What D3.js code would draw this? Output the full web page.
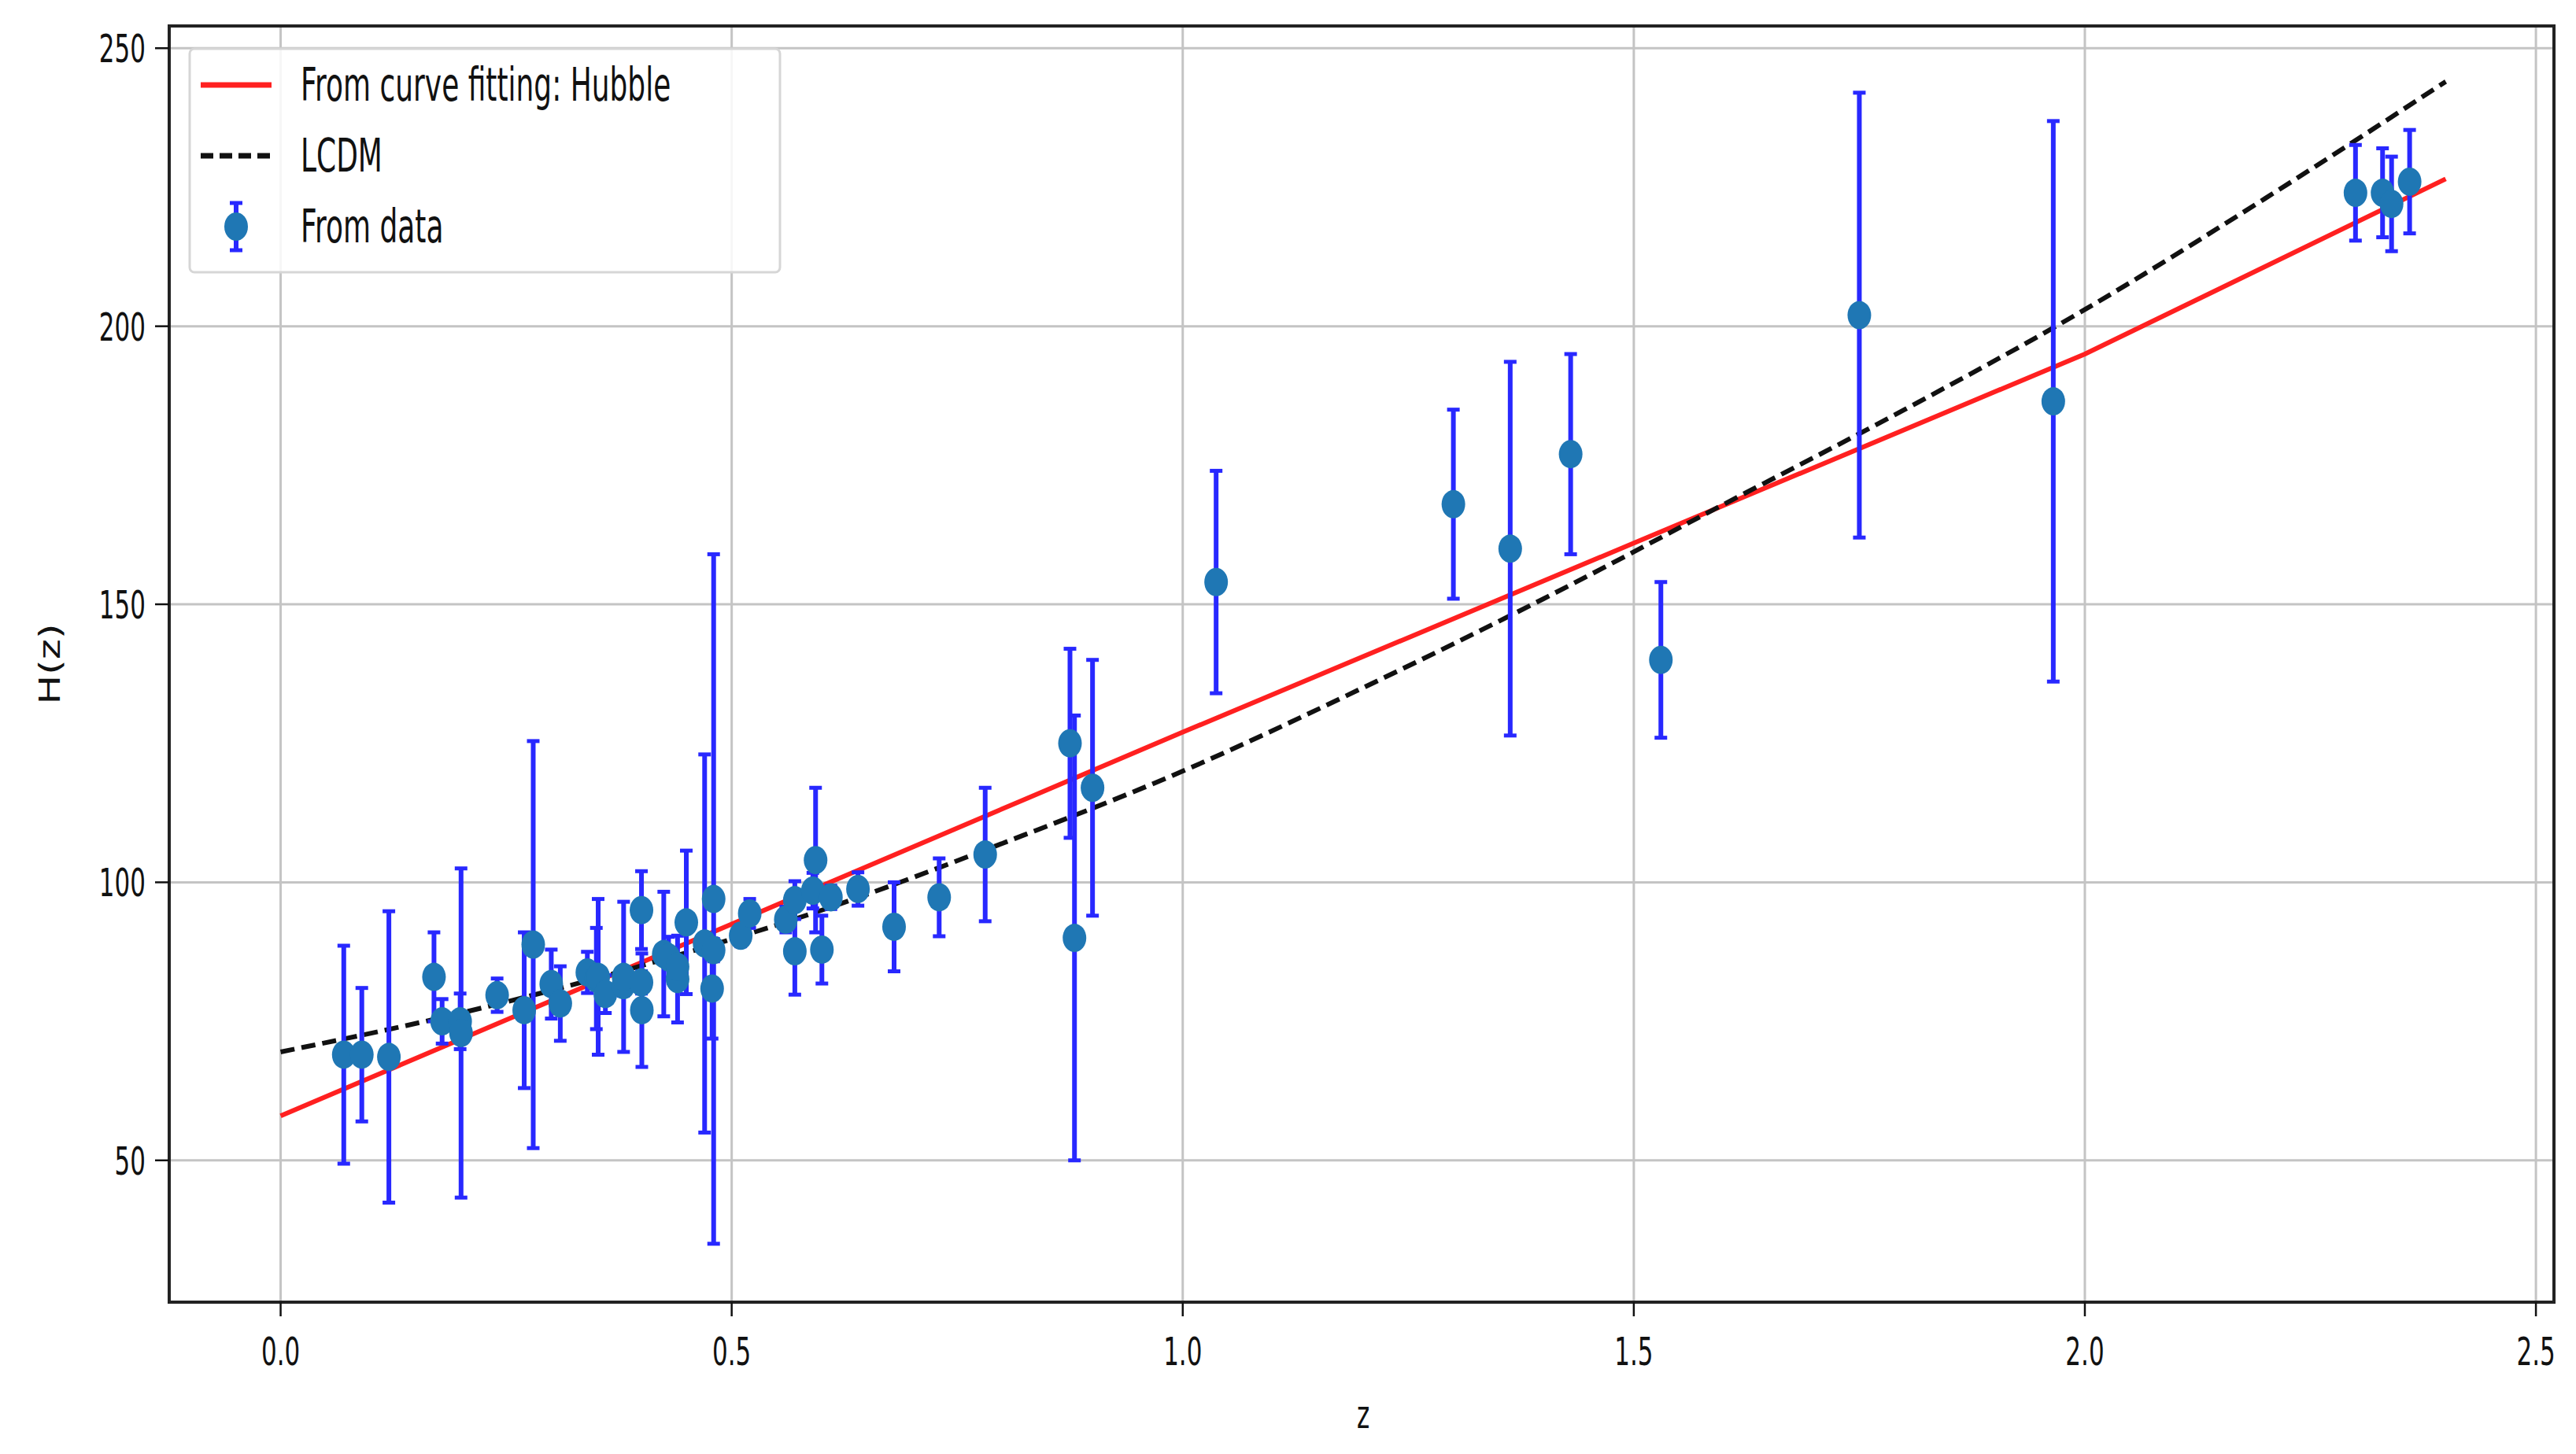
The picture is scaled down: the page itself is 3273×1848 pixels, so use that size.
<!DOCTYPE html>
<html><head><meta charset="utf-8">
<script src="https://cdn.jsdelivr.net/npm/d3@7"></script>
<style>body{margin:0;background:#fff}</style></head>
<body><svg id="chart" width="3273" height="1848"></svg>
<script>
// data points: redshift, H(z), error
const zData = [0.07,0.09,0.12,0.17,0.179,0.199,0.2,0.24,0.27,0.28,0.30,0.31,0.34,0.35,0.352,0.36,0.38,0.3802,0.40,0.40,0.4004,0.4247,0.43,0.44,0.44,0.4497,0.47,0.4783,0.48,0.48,0.51,0.52,0.56,0.57,0.57,0.59,0.593,0.60,0.61,0.64,0.68,0.73,0.781,0.875,0.88,0.9,1.037,1.3,1.363,1.43,1.53,1.75,1.965,2.30,2.33,2.34,2.36];
const hData = [69,69,68.6,83,75,75,72.9,79.7,77,88.8,81.7,78.2,83.8,82.7,83,79.9,81.5,83,82,95,77,87.1,86.5,82.6,84.8,92.8,89,80.9,97,87.8,90.4,94.4,93.3,87.6,96.8,98.5,104,87.9,97.3,98.8,92,97.3,105,125,90,117,154,168,160,177,140,202,186.5,224,224,222,226];
const errData = [19.6,12,26.2,8,4,5,29.6,3,14,36.6,6.2,6.7,3.7,9.1,14,3.4,1.9,13.5,2,7,10.2,11.2,3.7,7.8,1.8,12.9,34,9,62,2,1.9,2.6,2.3,7.8,3.4,3.2,13,6.1,2.1,3,8,7,12,17,40,23,20,17,33.6,18,14,40,50.4,8.6,8,8.5,9.3];
// fitted curve (red) and LCDM (dashed)
const fitZ = [0, 0.5, 1.0, 1.5, 2.0, 2.4];
const fitH = [58, 92.5, 127, 161, 195, 226.5];
const lcdmZ = [0,0.2,0.4,0.6,0.8,1.0,1.2,1.4,1.6,1.8,2.0,2.2,2.4];
const lcdmH = [69.5,76.5,85,95,107,120,135,151,168,185,203,223,244];
const xTicks = [0.0, 0.5, 1.0, 1.5, 2.0, 2.5];
const yTicks = [50, 100, 150, 200, 250];

const svg = d3.select('#chart');
const L = 215, R = 3245, T = 33, B = 1655;
const x = d3.scaleLinear().domain([-0.1235, 2.52]).range([L, R]);
const y = d3.scaleLinear().domain([24.5, 254]).range([B, T]);
const font = 'DejaVu Sans';

// grid
svg.append('g').selectAll('line').data(xTicks).join('line')
  .attr('x1', d => x(d)).attr('x2', d => x(d)).attr('y1', T).attr('y2', B)
  .attr('stroke', '#c4c4c4').attr('stroke-width', 3);
svg.append('g').selectAll('line').data(yTicks).join('line')
  .attr('x1', L).attr('x2', R).attr('y1', d => y(d)).attr('y2', d => y(d))
  .attr('stroke', '#c4c4c4').attr('stroke-width', 3);

// lines
const line = d3.line().x(d => x(d[0])).y(d => y(d[1]));
svg.append('path').datum(fitZ.map((z, i) => [z, fitH[i]]))
  .attr('d', line).attr('fill', 'none').attr('stroke', '#ff2020').attr('stroke-width', 6);
svg.append('path').datum(lcdmZ.map((z, i) => [z, lcdmH[i]]))
  .attr('d', line.curve(d3.curveMonotoneX)).attr('fill', 'none').attr('stroke', '#111')
  .attr('stroke-width', 6).attr('stroke-dasharray', '18,9');

// error bars + markers
const pts = zData.map((z, i) => ({z, h: hData[i], e: errData[i]}));
const eb = svg.append('g').attr('stroke', '#2828ff');
eb.selectAll('.v').data(pts).join('line')
  .attr('x1', d => x(d.z)).attr('x2', d => x(d.z))
  .attr('y1', d => y(d.h - d.e)).attr('y2', d => y(d.h + d.e)).attr('stroke-width', 6);
['lo', 'hi'].forEach(k => {
  eb.selectAll('.' + k).data(pts).join('line')
    .attr('x1', d => x(d.z) - 8).attr('x2', d => x(d.z) + 8)
    .attr('y1', d => y(k === 'lo' ? d.h - d.e : d.h + d.e))
    .attr('y2', d => y(k === 'lo' ? d.h - d.e : d.h + d.e))
    .attr('stroke-width', 5);
});
svg.append('g').selectAll('ellipse').data(pts).join('ellipse')
  .attr('cx', d => x(d.z)).attr('cy', d => y(d.h)).attr('rx', 15).attr('ry', 18)
  .attr('fill', '#1f77b4');

// frame
svg.append('rect').attr('x', L).attr('y', T).attr('width', R - L).attr('height', B - T)
  .attr('fill', 'none').attr('stroke', '#222').attr('stroke-width', 4);

// ticks & labels (narrow-looking text)
const tg = svg.append('g').attr('font-family', font).attr('font-size', 50).attr('fill', '#111');
xTicks.forEach(t => {
  tg.append('line').attr('x1', x(t)).attr('x2', x(t)).attr('y1', B).attr('y2', B + 18).attr('stroke', '#111').attr('stroke-width', 2.5);
  tg.append('text').attr('transform', `translate(${x(t)},${B + 80}) scale(0.62,1)`)
    .attr('text-anchor', 'middle').text(t.toFixed(1));
});
yTicks.forEach(t => {
  tg.append('line').attr('x1', L - 18).attr('x2', L).attr('y1', y(t)).attr('y2', y(t)).attr('stroke', '#111').attr('stroke-width', 2.5);
  tg.append('text').attr('transform', `translate(${L - 30},${y(t) + 18}) scale(0.62,1)`)
    .attr('text-anchor', 'end').text(t);
});
tg.append('text').attr('transform', `translate(${x(1.2)},${1815}) scale(0.62,1)`)
  .attr('text-anchor', 'middle').text('z');
tg.append('text').attr('transform', `translate(76,${(T + B) / 2}) rotate(-90) scale(1,0.75)`)
  .attr('text-anchor', 'middle').attr('font-size', 50).text('H(z)');

// legend
const lg = svg.append('g');
lg.append('rect').attr('x', 241).attr('y', 62).attr('width', 750).attr('height', 284).attr('rx', 6)
  .attr('fill', 'rgba(255,255,255,0.85)').attr('stroke', '#d6d6d6').attr('stroke-width', 3);
const rows = [108, 198, 288];
lg.append('line').attr('x1', 255).attr('x2', 345).attr('y1', rows[0]).attr('y2', rows[0])
  .attr('stroke', '#ff2020').attr('stroke-width', 7);
lg.append('line').attr('x1', 255).attr('x2', 345).attr('y1', rows[1]).attr('y2', rows[1])
  .attr('stroke', '#111').attr('stroke-width', 7).attr('stroke-dasharray', '16,8');
lg.append('line').attr('x1', 300).attr('x2', 300).attr('y1', rows[2] - 30).attr('y2', rows[2] + 30)
  .attr('stroke', '#2828ff').attr('stroke-width', 6);
[rows[2] - 30, rows[2] + 30].forEach(v => lg.append('line').attr('x1', 292).attr('x2', 308)
  .attr('y1', v).attr('y2', v).attr('stroke', '#2828ff').attr('stroke-width', 5));
lg.append('ellipse').attr('cx', 300).attr('cy', rows[2]).attr('rx', 15).attr('ry', 18).attr('fill', '#1f77b4');
['From curve fitting: Hubble', 'LCDM', 'From data'].forEach((s, i) => {
  lg.append('text').attr('transform', `translate(382,${rows[i] + 20}) scale(0.62,1)`)
    .attr('font-family', font).attr('font-size', 58).attr('fill', '#111').text(s);
});
</script></body></html>
